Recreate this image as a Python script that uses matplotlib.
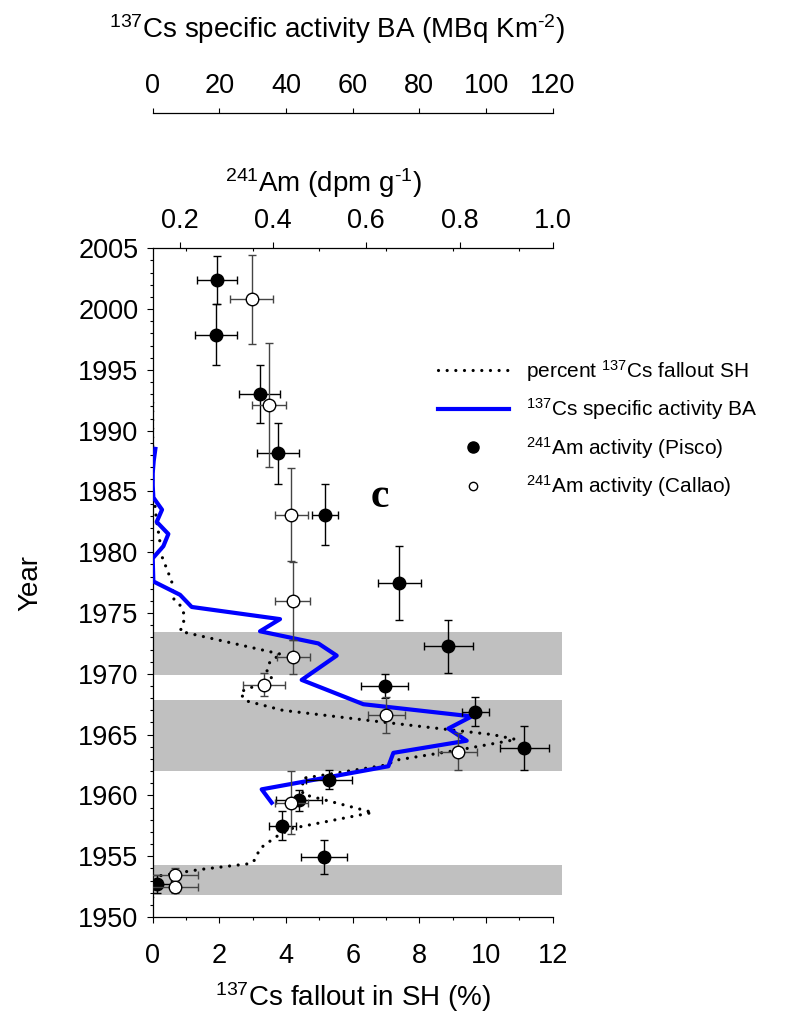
import matplotlib
matplotlib.use("Agg")
import matplotlib.pyplot as plt
from matplotlib.lines import Line2D
from matplotlib.ticker import MultipleLocator, FixedLocator, NullLocator

plt.rcParams['font.family'] = ['Liberation Sans', 'DejaVu Sans']
plt.rcParams['mathtext.fontset'] = 'custom'
plt.rcParams['mathtext.rm'] = 'Liberation Sans'
plt.rcParams['mathtext.it'] = 'Liberation Sans:italic'
plt.rcParams['mathtext.bf'] = 'Liberation Sans:bold'

# percent 137Cs fallout in the southern hemisphere (bottom axis)
sh_year = [1992.3, 1985.0, 1983.8, 1982.5, 1981.2, 1979.7, 1979.0, 1978.3, 1977.6,
           1976.2, 1975.5, 1974.8, 1974.1, 1973.5, 1971.6, 1971.2, 1970.8, 1970.1,
           1969.5, 1968.8, 1968.5, 1967.8, 1967.0, 1966.0, 1965.0, 1964.6, 1963.7,
           1962.9, 1962.5, 1961.4, 1960.1, 1958.6, 1957.3, 1956.6, 1955.6, 1954.8,
           1954.4, 1953.9, 1953.35, 1951.6]
sh_pct = [0.0, 0.0, 0.07, 0.12, 0.2, 0.27, 0.37, 0.47, 0.57,
          0.62, 0.87, 0.95, 0.92, 0.82, 3.87, 3.6, 3.47, 3.42,
          3.62, 2.87, 2.62, 2.77, 3.9, 7.0, 10.2, 10.9, 9.1,
          7.3, 7.0, 4.5, 4.5, 6.6, 4.2, 3.7, 3.2, 3.1,
          2.95, 1.4, 0.12, 0.0]

# 137Cs specific activity BA (MBq km-2, upper axis)
ba_year = [1988.5, 1987.5, 1986.5, 1985.5, 1984.5, 1983.5, 1982.5, 1981.5, 1980.5,
           1979.5, 1977.6, 1976.5, 1975.5, 1974.5, 1973.5, 1972.5, 1971.5, 1969.5,
           1967.5, 1966.5, 1965.5, 1964.5, 1963.5, 1962.4, 1960.5, 1959.4]
ba_cs = [0.8, 0.3, 0.0, 0.0, 0.2, 2.8, 1.2, 4.7, 3.2,
         0.0, 0.2, 8.2, 11.7, 38.2, 32.2, 49.7, 55.2, 44.7,
         63.2, 95.7, 88.7, 94.2, 72.2, 70.7, 32.7, 35.7]

# 241Am, Pisco core
pisco_year = [2002.4, 1997.9, 1993.0, 1988.15, 1983.1, 1977.5, 1972.25, 1969.0,
              1966.9, 1963.9, 1961.3, 1959.6, 1957.5, 1954.9, 1952.7]
pisco_am = [0.280, 0.277, 0.371, 0.411, 0.511, 0.671, 0.776, 0.639,
            0.834, 0.939, 0.520, 0.455, 0.420, 0.509, 0.150]
pisco_am_err = [0.043, 0.045, 0.044, 0.045, 0.028, 0.046, 0.053, 0.051,
                0.029, 0.052, 0.049, 0.049, 0.030, 0.050, 0.030]
pisco_yr_err = [2.0, 2.5, 2.4, 2.5, 2.5, 3.05, 2.2, 1.0,
                1.2, 1.8, 0.8, 0.86, 1.2, 1.4, 0.75]

# 241Am, Callao core
callao_year = [2000.8, 1992.1, 1983.1, 1976.0, 1971.4, 1969.1, 1966.6, 1963.6,
               1959.4, 1953.45, 1952.5]
callao_am = [0.354, 0.391, 0.439, 0.442, 0.443, 0.381, 0.643, 0.796,
             0.439, 0.189, 0.189]
callao_am_err = [0.046, 0.036, 0.036, 0.038, 0.035, 0.045, 0.040, 0.042,
                 0.036, 0.050, 0.050]
callao_yr_err = [3.66, 5.1, 3.8, 3.2, 1.4, 0.96, 1.5, 1.5,
                 2.6, 0.55, 0.55]

# shaded periods
band_lo = [1951.8, 1962.0, 1969.9]
band_hi = [1954.3, 1967.85, 1973.4]

W, H = 800, 1025
fig = plt.figure(figsize=(W / 100, H / 100), dpi=100)
ax = fig.add_axes([152.7 / W, 1 - 917 / H, 400 / W, 668.7 / H])

ax.set_xlim(0, 12)
ax.set_ylim(1950, 2005)
ax.spines['right'].set_visible(False)
ax.spines['top'].set_visible(False)
for s in ax.spines.values():
    s.set_linewidth(0.9)

ax.xaxis.set_major_locator(MultipleLocator(2))
ax.xaxis.set_minor_locator(MultipleLocator(1))
ax.yaxis.set_major_locator(MultipleLocator(5))
ax.yaxis.set_minor_locator(MultipleLocator(1))
ax.tick_params(axis='x', which='major', direction='out', length=4.5, width=0.8,
               labelsize=19.5, pad=14)
ax.tick_params(axis='x', which='minor', direction='out', length=2.5, width=0.8)
ax.tick_params(axis='y', which='major', direction='out', length=4.3, width=0.8,
               labelsize=19.5, pad=6)
ax.tick_params(axis='y', which='minor', direction='out', length=2.5, width=0.8)

for lo, hi in zip(band_lo, band_hi):
    ax.axhspan(lo, hi, xmin=0, xmax=1.023, color='#c0c0c0', lw=0,
               clip_on=False, zorder=0)

ax.plot(sh_pct, sh_year, color='black', lw=2.3, linestyle=(0, (0.01, 2.7)),
        dash_capstyle='round', zorder=2)

# inward ticks on the top frame
sec = ax.secondary_xaxis('top')
sec.xaxis.set_major_locator(NullLocator())
sec.xaxis.set_minor_locator(FixedLocator([1, 3, 5, 7, 9, 11]))
sec.tick_params(which='minor', direction='in', length=2.5, width=0.8)
sec.spines['top'].set_visible(False)

# 137Cs BA axis, detached above the plot
ax_cs = ax.twiny()
ax_cs.set_xlim(0, 120)
for k in ['left', 'right', 'bottom']:
    ax_cs.spines[k].set_visible(False)
ax_cs.spines['top'].set_position(('outward', 97.4))
ax_cs.spines['top'].set_linewidth(0.9)
ax_cs.xaxis.set_major_locator(MultipleLocator(20))
ax_cs.tick_params(axis='x', direction='out', length=3.8, width=0.8,
                  labelsize=19.5, pad=6)
ax_cs.plot(ba_cs, ba_year, color='#0000ff', lw=3, zorder=3)

# 241Am axis on the top frame
ax_am = ax.twiny()
ax_am.set_xlim(0.1414, 1.0)
for k in ['left', 'right', 'bottom']:
    ax_am.spines[k].set_visible(False)
ax_am.spines['top'].set_linewidth(0.9)
ax_am.xaxis.set_major_locator(FixedLocator([0.2, 0.4, 0.6, 0.8, 1.0]))
ax_am.xaxis.set_major_formatter(plt.FuncFormatter(lambda v, p: f"{v:.1f}"))
ax_am.tick_params(axis='x', direction='out', length=4.5, width=0.8,
                  labelsize=19.5, pad=6)

ax_am.errorbar(pisco_am, pisco_year, xerr=pisco_am_err, yerr=pisco_yr_err,
               fmt='o', ms=9, mfc='black', mec='black', ecolor='black',
               elinewidth=1, capsize=3, capthick=1, zorder=4)
ax_am.errorbar(callao_am, callao_year, xerr=callao_am_err, yerr=callao_yr_err,
               fmt='o', ms=9, mfc='white', mec='black', mew=1, ecolor='#444444',
               elinewidth=1, capsize=3, capthick=1, zorder=5)

ax.text(6.82, 1983.75, 'c', fontfamily='Liberation Serif', fontweight='bold',
        fontsize=30, ha='center', va='baseline')

# axis titles
fig.text(337.5 / W, 1 - 38.3 / H,
         r'$^{137}$Cs specific activity BA (MBq Km$^{\text{-}2}$)',
         fontsize=20, ha='center', va='baseline')
fig.text(324 / W, 1 - 192 / H, r'$^{241}$Am (dpm g$^{\text{-}1}$)',
         fontsize=20, ha='center', va='baseline')
fig.text(353 / W, 1 - 1006 / H, r'$^{137}$Cs fallout in SH (%)',
         fontsize=20, ha='center', va='baseline')
fig.text(30 / W, 1 - 583 / H, 'Year', fontsize=20, rotation=90,
         ha='center', va='center')

handles = [
    Line2D([], [], color='black', lw=2.3, linestyle=(0, (0.01, 2.7)),
           dash_capstyle='round'),
    Line2D([], [], color='#0000ff', lw=3),
    Line2D([], [], ls='none', marker='o', ms=8, mfc='black', mec='black'),
    Line2D([], [], ls='none', marker='o', ms=6, mfc='white', mec='black'),
]
labels = [
    r'percent $^{137}$Cs fallout SH',
    r'$^{137}$Cs specific activity BA',
    r'$^{241}$Am activity (Pisco)',
    r'$^{241}$Am activity (Callao)',
]
fig.legend(handles, labels, loc='upper left', bbox_to_anchor=(438 / W, 1 - 358 / H),
           frameon=False, fontsize=15, handlelength=3.4, handletextpad=0.8,
           labelspacing=0.6, borderpad=0, borderaxespad=0)

fig.savefig('out.png', dpi=100)
